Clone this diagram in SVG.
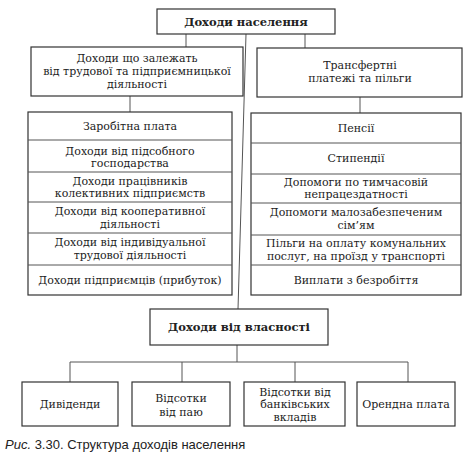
<svg xmlns="http://www.w3.org/2000/svg" width="470" height="475" viewBox="0 0 470 475">
<style>
.b{fill:#fff;stroke:#333;stroke-width:1.2}
.l{stroke:#555;stroke-width:1;fill:none}
.t{font-family:"DejaVu Serif","Liberation Serif",serif;font-size:11px;fill:#222;text-anchor:middle}
.h{font-weight:bold;font-size:11.5px}
.c{font-family:"Liberation Sans",Arial,sans-serif;font-size:13px;fill:#222}
</style>
<rect width="470" height="475" fill="#fff"/>
<g id="connectors">
<path class="l" d="M186 34V47M305 34V48M246 34L238 309M130 96V112M360 97V113M237 345V362M70 362H408M70 362V382M182 362V382M295 362V382M408 362V382"/>
</g>
<g id="root"><rect class="b" x="157" y="9" width="178" height="25"/><text class="t h" x="246" y="26">Доходи населення</text></g>
<g id="labour"><rect class="b" x="31" y="47" width="212" height="49"/><text class="t" x="137" y="62">Доходи що залежать</text><text class="t" x="137" y="75">від трудової та підприємницької</text><text class="t" x="137" y="88">діяльності</text></g>
<g id="transfer"><rect class="b" x="257" y="48" width="205" height="49"/><text class="t" x="360" y="69">Трансфертні</text><text class="t" x="360" y="82">платежі та пільги</text></g>
<g id="labour-list">
<rect class="b" x="28" y="112" width="204" height="183"/>
<path class="l" d="M28 140H232M28 172H232M28 202H232M28 233H232M28 265H232" stroke="#333"/>
<text class="t" x="130" y="130">Заробітна плата</text>
<text class="t" x="130" y="155">Доходи від підсобного</text><text class="t" x="130" y="167">господарства</text>
<text class="t" x="130" y="185">Доходи працівників</text><text class="t" x="130" y="197">колективних підприємств</text>
<text class="t" x="130" y="215">Доходи від кооперативної</text><text class="t" x="130" y="228">діяльності</text>
<text class="t" x="130" y="246">Доходи від індивідуальної</text><text class="t" x="130" y="259">трудової діяльності</text>
<text class="t" x="130" y="284">Доходи підприємців (прибуток)</text>
</g>
<g id="transfer-list">
<rect class="b" x="251" y="113" width="210" height="182"/>
<path class="l" d="M251 143H461M251 174H461M251 203H461M251 235H461M251 265H461" stroke="#333"/>
<text class="t" x="356" y="132">Пенсії</text>
<text class="t" x="356" y="162">Стипендії</text>
<text class="t" x="356" y="186">Допомоги по тимчасовій</text><text class="t" x="356" y="198">непрацездатності</text>
<text class="t" x="356" y="216">Допомоги малозабезпеченим</text><text class="t" x="356" y="229">сім’ям</text>
<text class="t" x="356" y="247">Пільги на оплату комунальних</text><text class="t" x="356" y="260">послуг, на проїзд у транспорті</text>
<text class="t" x="356" y="284">Виплати з безробіття</text>
</g>
<g id="property"><rect class="b" x="150" y="309" width="178" height="36"/><text class="t h" x="239" y="331">Доходи від власності</text></g>
<g id="dividends"><rect class="b" x="22" y="382" width="96" height="44"/><text class="t" x="70" y="408">Дивіденди</text></g>
<g id="share"><rect class="b" x="132" y="382" width="98" height="44"/><text class="t" x="181" y="402">Відсотки</text><text class="t" x="181" y="416">від паю</text></g>
<g id="bank"><rect class="b" x="244" y="382" width="101" height="44"/><text class="t" x="295" y="396">Відсотки від</text><text class="t" x="295" y="408">банківських</text><text class="t" x="295" y="421">вкладів</text></g>
<g id="rent"><rect class="b" x="357" y="382" width="98" height="44"/><text class="t" x="406" y="408">Орендна плата</text></g>
<text class="c" x="5" y="449"><tspan font-style="italic">Рис.</tspan> 3.30. Структура доходів населення</text>
</svg>
